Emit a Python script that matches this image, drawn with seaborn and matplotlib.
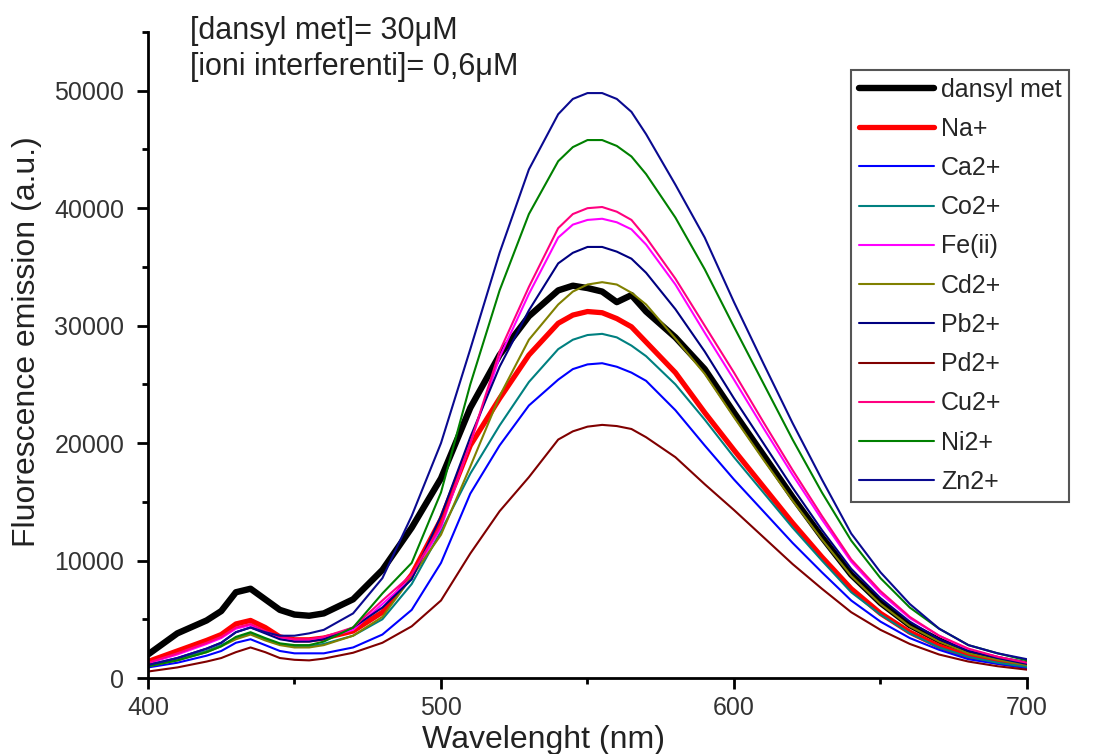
import matplotlib
matplotlib.use("Agg")
import matplotlib.pyplot as plt
import seaborn as sns
from matplotlib.ticker import MultipleLocator

# ---------------- data ----------------
wavelength = [400, 410, 420, 425, 430, 435, 440, 445, 450, 455,
              460, 470, 480, 490, 500, 510, 520, 530, 540, 545,
              550, 555, 560, 565, 570, 580, 590, 600, 610, 620,
              630, 640, 650, 660, 670, 680, 690, 700]

dansyl_met = [2000, 3800, 4900, 5700, 7300, 7600, 6700, 5800, 5400, 5300,
              5500, 6700, 9200, 12800, 17000, 23000, 27500, 30800, 33000, 33400,
              33200, 32900, 32000, 32600, 31200, 29000, 26300, 22600, 19000, 15400,
              12000, 8800, 6400, 4500, 3200, 2200, 1600, 1150]
na = [1400, 2300, 3200, 3700, 4600, 4900, 4300, 3500, 3250, 3250,
      3400, 4000, 5600, 8800, 13500, 19800, 23800, 27500, 30200, 30900,
      31200, 31100, 30600, 29900, 28600, 26000, 22600, 19400, 16300, 13200,
      10300, 7600, 5500, 3900, 2700, 1850, 1350, 970]
ca = [900, 1300, 1900, 2300, 3000, 3300, 2800, 2300, 2100, 2100,
      2100, 2600, 3700, 5800, 9800, 15700, 19800, 23200, 25400, 26300,
      26700, 26800, 26500, 26000, 25300, 22800, 19800, 16900, 14200, 11500,
      9000, 6600, 4800, 3400, 2400, 1600, 1200, 850]
co = [1100, 1600, 2300, 2800, 3400, 3800, 3300, 2900, 2700, 2700,
      2900, 3600, 5000, 8000, 12500, 17400, 21500, 25200, 28000, 28800,
      29200, 29300, 29000, 28300, 27400, 25000, 22000, 18800, 15800, 12800,
      10000, 7300, 5400, 3800, 2600, 1800, 1300, 950]
fe = [1250, 2000, 2900, 3400, 4200, 4500, 3900, 3400, 3200, 3200,
      3400, 4100, 6300, 8500, 12800, 20000, 27300, 32700, 37500, 38600,
      39000, 39100, 38800, 38200, 36900, 33500, 29400, 25400, 21300, 17300,
      13500, 9900, 7200, 5100, 3600, 2400, 1800, 1270]
cd = [1000, 1500, 2200, 2700, 3300, 3700, 3200, 2800, 2600, 2600,
      2800, 3600, 5200, 8600, 12200, 18000, 24000, 28800, 31800, 32900,
      33500, 33700, 33500, 32800, 31800, 28900, 25900, 22200, 18600, 15100,
      11800, 8700, 6300, 4400, 3100, 2100, 1550, 1100]
pb = [1100, 1700, 2500, 3000, 3900, 4300, 3800, 3300, 3100, 3100,
      3300, 4300, 6000, 8400, 13800, 20500, 26500, 31300, 35300, 36200,
      36700, 36700, 36300, 35700, 34500, 31400, 27800, 23800, 20000, 16200,
      12600, 9300, 6800, 4800, 3300, 2300, 1700, 1200]
pd_ = [550, 900, 1400, 1700, 2200, 2600, 2200, 1700, 1550, 1500,
       1650, 2150, 3000, 4400, 6600, 10600, 14200, 17100, 20300, 21000,
       21400, 21550, 21450, 21200, 20500, 18800, 16500, 14300, 12000, 9700,
       7600, 5600, 4100, 2900, 2000, 1400, 1000, 710]
cu = [1300, 2100, 3000, 3500, 4300, 4600, 4000, 3500, 3300, 3300,
      3500, 4300, 6600, 8800, 13000, 20000, 27800, 33300, 38300, 39500,
      40000, 40100, 39700, 39000, 37500, 34000, 30000, 26000, 21800, 17700,
      13800, 10100, 7400, 5200, 3600, 2500, 1800, 1300]
ni = [1000, 1500, 2200, 2700, 3500, 3900, 3400, 2950, 2800, 2800,
      3100, 4300, 7200, 9800, 15800, 25000, 33000, 39500, 44000, 45200,
      45800, 45800, 45300, 44400, 42900, 39200, 34800, 29900, 25100, 20300,
      15800, 11700, 8500, 6000, 4200, 2800, 2100, 1500]
zn = [1100, 1700, 2500, 3000, 3900, 4300, 3900, 3600, 3600, 3800,
      4100, 5500, 8500, 13800, 20000, 28000, 36200, 43300, 48000, 49300,
      49800, 49800, 49300, 48200, 46300, 42000, 37500, 32000, 26800, 21700,
      16900, 12300, 9000, 6300, 4200, 2800, 2100, 1600]

series_labels = ["dansyl met", "Na+", "Ca2+", "Co2+", "Fe(ii)", "Cd2+",
                 "Pb2+", "Pd2+", "Cu2+", "Ni2+", "Zn2+"]
series_values = [dansyl_met, na, ca, co, fe, cd, pb, pd_, cu, ni, zn]
series_colors = ["#000000", "#FF0000", "#0000FF", "#008080", "#FF00FF", "#808000",
                 "#000080", "#800000", "#FF0080", "#008000", "#0A0A90"]
series_widths = [4.6, 3.8] + [1.5] * 9

x_ticks = [400, 500, 600, 700]
y_ticks = [0, 10000, 20000, 30000, 40000, 50000]

# ---------------- style ----------------
sns.set_style("ticks")
plt.rcParams["font.family"] = ["Liberation Sans", "DejaVu Sans"]

fig = plt.figure(figsize=(10.95, 7.54), dpi=100)
ax = fig.add_axes([148 / 1095, 1 - 678 / 754, (1027 - 148) / 1095, (678 - 32) / 754])

for lab, vals, col, lw in zip(series_labels, series_values, series_colors, series_widths):
    sns.lineplot(x=wavelength, y=vals, color=col, linewidth=lw, label=lab, ax=ax,
                 solid_capstyle="round", solid_joinstyle="round")

ax.set_xlim(400, 700)
ax.set_ylim(0, 55000)
ax.set_xticks(x_ticks)
ax.set_yticks(y_ticks)
ax.xaxis.set_minor_locator(MultipleLocator(50))
ax.yaxis.set_minor_locator(MultipleLocator(5000))
ax.set_xticklabels([str(v) for v in x_ticks])
ax.set_yticklabels([str(v) for v in y_ticks])

sns.despine(ax=ax)
for s in ["left", "bottom"]:
    ax.spines[s].set_linewidth(2)
    ax.spines[s].set_color("black")
ax.tick_params(which="major", direction="out", length=8, width=2, color="black",
               labelsize=18, labelcolor="#333333")
ax.tick_params(axis="y", which="major", pad=9)
ax.tick_params(axis="x", which="major", pad=5)
ax.tick_params(which="minor", direction="out", length=4.5, width=2, color="black")

ax.set_xlabel("Wavelenght (nm)", fontsize=23, color="#222222")
ax.set_ylabel("Fluorescence emission (a.u.)", fontsize=23, color="#222222")
ax.xaxis.set_label_coords((544 - 148) / 879, (678 - 740) / 646)
ax.yaxis.set_label_coords((27 - 148) / 879, (678 - 342) / 646)
ax.xaxis.label.set_va("center")
ax.yaxis.label.set_va("center")

fig.text(190 / 1095, 1 - 39 / 754, "[dansyl met]= 30\u03bcM", fontsize=22,
         color="#222222", va="baseline", ha="left")
fig.text(190 / 1095, 1 - 75 / 754, "[ioni interferenti]= 0,6\u03bcM", fontsize=22,
         color="#222222", va="baseline", ha="left")

handles, labels = ax.get_legend_handles_labels()
leg = ax.legend(handles, labels, loc="upper left",
                bbox_to_anchor=(851 / 1095, 1 - 70 / 754), bbox_transform=fig.transFigure,
                fontsize=18, frameon=True, fancybox=False, framealpha=1,
                edgecolor="#555555", borderpad=0.3, labelspacing=0.61,
                handlelength=3.0, handletextpad=0.3, borderaxespad=0)
leg.get_frame().set_linewidth(1.5)

fig.savefig("out.png", dpi=100)
